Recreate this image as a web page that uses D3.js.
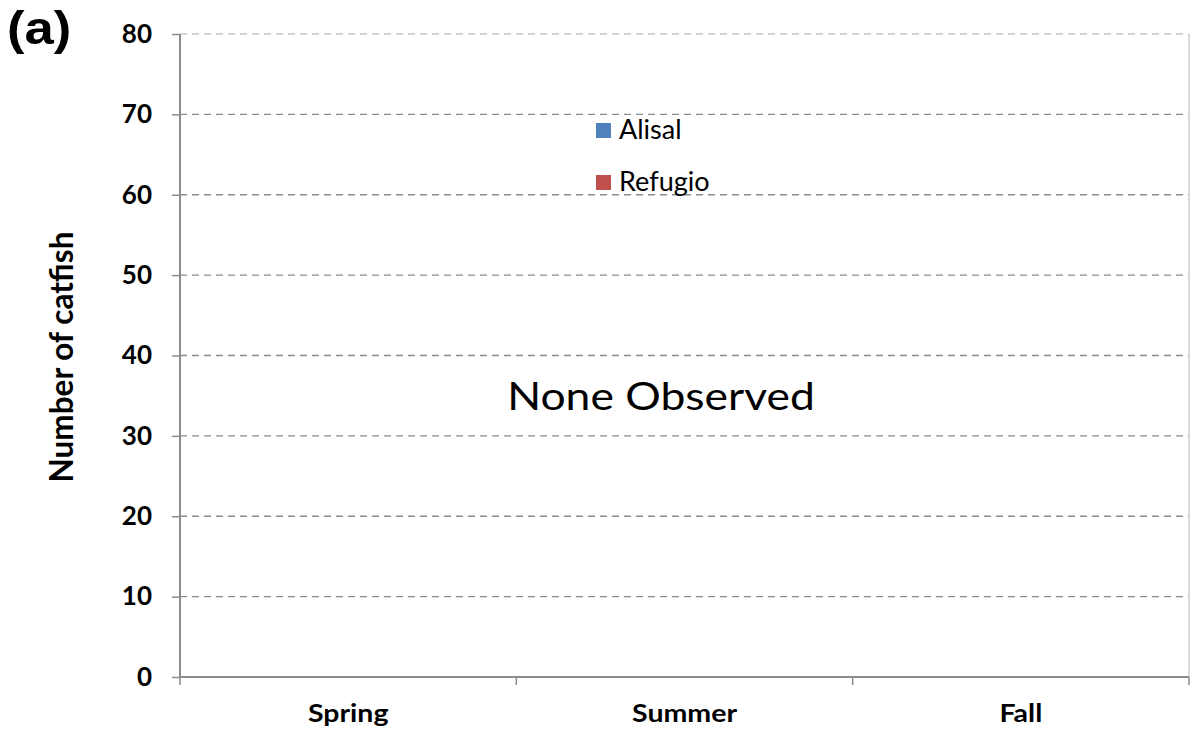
<!DOCTYPE html>
<html><head><meta charset="utf-8">
<script src="https://cdn.jsdelivr.net/npm/d3@7"></script>
<style>body{margin:0;background:#fff;}svg{display:block;}</style>
</head><body>
<svg id="c" width="1191" height="733"></svg>
<script>
const categories = ["Spring", "Summer", "Fall"];
const seriesNames = ["Alisal", "Refugio"];
const alisal = [0, 0, 0];
const refugio = [0, 0, 0];
const yTicks = [0, 10, 20, 30, 40, 50, 60, 70, 80];
const colors = ["#4F81BD", "#C0504D"];

const svg = d3.select("#c");
const m = {l: 180, t: 34, r: 1189, b: 677};
const x = d3.scaleBand().domain(categories).range([m.l, m.r]);
const xs = d3.scaleBand().domain(seriesNames).range([0, x.bandwidth()]).paddingInner(0).paddingOuter(1.2);
const y = d3.scaleLinear().domain([0, 80]).range([m.b, m.t]);
const font = "Lato, 'Open Sans', sans-serif";

// gridlines
svg.append("g").selectAll("line").data(yTicks.filter(d => d > 0)).join("line")
  .attr("x1", m.l).attr("x2", m.r).attr("y1", d => y(d)).attr("y2", d => y(d))
  .attr("stroke", d => d === 80 ? "#c8c8c8" : "#8c8c8c").attr("stroke-width", 1.3)
  .attr("stroke-dasharray", "7,5");
// right border
svg.append("line").attr("x1", m.r).attr("x2", m.r).attr("y1", m.t).attr("y2", m.b)
  .attr("stroke", "#c8c8c8").attr("stroke-width", 1.3);

// bars (all zero)
const data = [alisal, refugio];
data.forEach((vals, si) => {
  svg.append("g").selectAll("rect").data(vals).join("rect")
    .attr("x", (d, i) => x(categories[i]) + xs(seriesNames[si]))
    .attr("width", xs.bandwidth())
    .attr("y", d => y(d)).attr("height", d => y(0) - y(d))
    .attr("fill", colors[si]);
});

// y axis
const ya = svg.append("g").attr("transform", `translate(${m.l},0)`)
  .call(d3.axisLeft(y).tickValues(yTicks).tickSize(8).tickPadding(20));
ya.select(".domain").attr("stroke", "#8c8c8c").attr("stroke-width", 2).attr("d", `M0,${m.t}V${m.b}`);
ya.selectAll(".tick line").attr("stroke", "#8c8c8c").attr("stroke-width", 1.5);
ya.selectAll(".tick text").attr("font-family", font).attr("font-weight", "bold")
  .attr("font-size", 26).attr("fill", "#000");

// x axis
const xa = svg.append("g").attr("transform", `translate(0,${m.b})`)
  .call(d3.axisBottom(x).tickSize(0).tickPadding(27));
xa.select(".domain").attr("stroke", "#8c8c8c").attr("stroke-width", 2).attr("d", `M${m.l},0H${m.r}`);
xa.selectAll(".tick text").attr("font-family", font).attr("font-weight", "bold")
  .attr("font-size", 25).attr("fill", "#000").attr("transform", "scale(1.14,1)");
const xb = categories.map(c => x(c)).concat([m.r]);
svg.append("g").selectAll("line").data(xb).join("line")
  .attr("x1", d => d).attr("x2", d => d).attr("y1", m.b).attr("y2", m.b + 8)
  .attr("stroke", "#8c8c8c").attr("stroke-width", 1.5);

// y label
svg.append("text").attr("transform", "translate(73,357) rotate(-90)")
  .attr("text-anchor", "middle").attr("font-family", font).attr("font-weight", "bold")
  .attr("font-size", 31.5).text("Number of catfish");

// panel label
svg.append("text").attr("transform", "translate(7,44) scale(1.12,1)")
  .attr("font-family", "'Liberation Sans', Arial, sans-serif")
  .attr("font-weight", "bold").attr("font-size", 47).text("(a)");

// None Observed
svg.append("text").attr("transform", "translate(661,410) scale(1.17,1)").attr("text-anchor", "middle")
  .attr("font-family", font).attr("font-size", 38).text("None Observed");

// legend
const lg = svg.append("g");
seriesNames.forEach((s, i) => {
  const yy = 123 + i * 52;
  lg.append("rect").attr("x", 596).attr("y", yy).attr("width", 15).attr("height", 15).attr("fill", colors[i]);
  lg.append("text").attr("transform", `translate(619,${yy + 16}) scale(1.04,1)`).attr("font-family", font)
    .attr("font-size", 26).text(s);
});
</script>
</body></html>
